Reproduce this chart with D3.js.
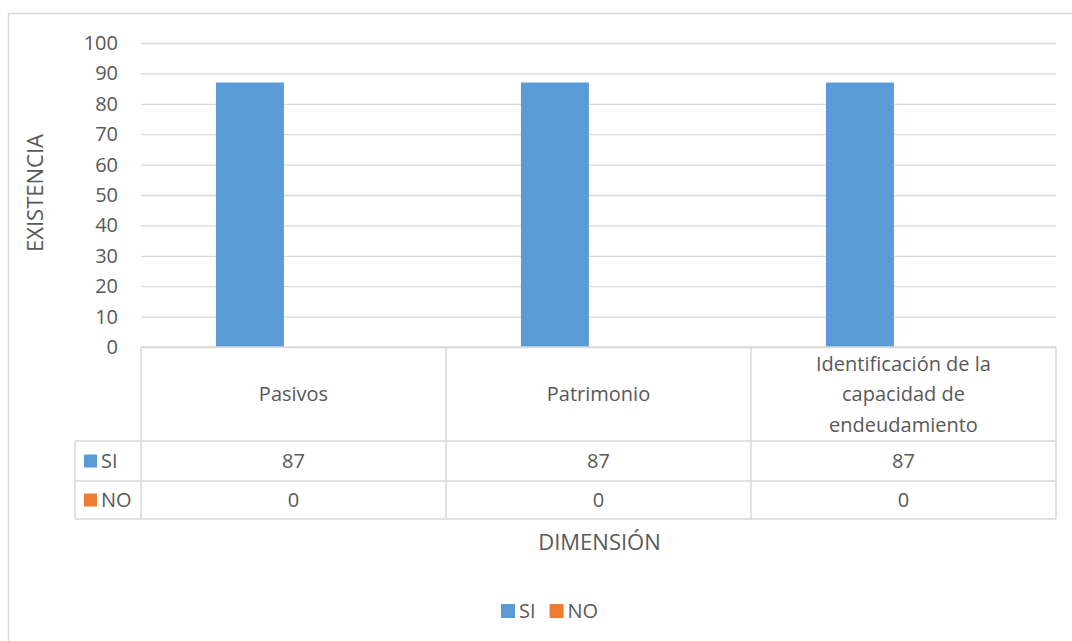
<!DOCTYPE html>
<html>
<head>
<meta charset="utf-8">
<script src="https://cdn.jsdelivr.net/npm/d3@7"></script>
<style>
  html, body { margin: 0; padding: 0; background: #fff; }
  svg { display: block; font-family: "Open Sans", sans-serif; }
</style>
</head>
<body>
<svg id="chart" width="1072" height="641"></svg>
<script>
// Data
const categories = ["Pasivos", "Patrimonio", "Identificación de la capacidad de endeudamiento"];
const seriesNames = ["SI", "NO"];
const siValues = [87, 87, 87];
const noValues = [0, 0, 0];
const yTicks = [0, 10, 20, 30, 40, 50, 60, 70, 80, 90, 100];
const yTitle = "EXISTENCIA";
const xTitle = "DIMENSIÓN";

const seriesColors = { SI: "#5b9bd5", NO: "#ed7d31" };
const seriesValues = { SI: siValues, NO: noValues };

const W = 1072, H = 641;
const plot = { left: 141, right: 1056, top: 43, bottom: 347 };
const table = { rowCat: 441, rowSi: 481, rowNo: 519, legendLeft: 75 };
const gridColor = "#d9d9d9";
const textColor = "#595959";
const fontSize = 20;
const titleSize = 22;

const svg = d3.select("#chart");
svg.append("rect").attr("width", W).attr("height", H).attr("fill", "#fff");

// Chart frame
svg.append("rect")
  .attr("x", 8.5).attr("y", 13.5)
  .attr("width", W + 20).attr("height", H + 20)
  .attr("fill", "none").attr("stroke", gridColor).attr("stroke-width", 1.5);

// Scales
const y = d3.scaleLinear().domain([0, 100]).range([plot.bottom, plot.top]);
const x0 = d3.scaleBand().domain(categories).range([plot.left, plot.right]).padding(0);
const bw = x0.bandwidth();
const x1 = d3.scaleBand().domain(seriesNames).range([bw * 0.2457, bw * 0.6915]).padding(0);

// Gridlines + y tick labels
const yAxis = svg.append("g")
  .attr("transform", `translate(${plot.left},0)`)
  .call(d3.axisLeft(y).tickValues(yTicks).tickSize(-(plot.right - plot.left)).tickPadding(23));
yAxis.select(".domain").remove();
yAxis.selectAll(".tick line").attr("stroke", gridColor).attr("stroke-width", 1.3);
yAxis.selectAll(".tick text")
  .attr("fill", textColor).attr("font-size", fontSize)
  .attr("font-family", "Open Sans, sans-serif");

// Bars
const groups = svg.append("g").selectAll("g")
  .data(categories)
  .join("g")
  .attr("transform", d => `translate(${x0(d)},0)`);

groups.selectAll("rect")
  .data((d, i) => seriesNames.map(s => ({ s, v: seriesValues[s][i] })))
  .join("rect")
  .attr("x", d => x1(d.s))
  .attr("y", d => y(d.v))
  .attr("width", x1.bandwidth())
  .attr("height", d => y(0) - y(d.v))
  .attr("fill", d => seriesColors[d.s]);

// Data table grid
const lines = svg.append("g").attr("stroke", gridColor).attr("stroke-width", 1.5);
const hline = (yy, xa, xb) => lines.append("line").attr("x1", xa).attr("x2", xb).attr("y1", yy).attr("y2", yy);
const vline = (xx, ya, yb) => lines.append("line").attr("x1", xx).attr("x2", xx).attr("y1", ya).attr("y2", yb);

hline(plot.bottom, plot.left, plot.right);
hline(table.rowCat, table.legendLeft, plot.right);
hline(table.rowSi, table.legendLeft, plot.right);
hline(table.rowNo, table.legendLeft, plot.right);
vline(table.legendLeft, table.rowCat, table.rowNo);
categories.forEach(c => vline(x0(c), plot.bottom, table.rowNo));
vline(plot.right, plot.bottom, table.rowNo);

// Category labels, wrapped
const catLabels = svg.append("g").selectAll("text")
  .data(categories)
  .join("text")
  .attr("text-anchor", "middle")
  .attr("fill", textColor)
  .attr("font-size", fontSize);

const maxLabelWidth = 205;
const lineH = 30.5;
catLabels.each(function (d) {
  const t = d3.select(this);
  const words = d.split(" ");
  const rows = [];
  let cur = [];
  const probe = t.append("tspan");
  words.forEach(w => {
    const trial = cur.concat([w]).join(" ");
    probe.text(trial);
    if (probe.node().getComputedTextLength() > maxLabelWidth && cur.length) {
      rows.push(cur.join(" "));
      cur = [w];
    } else {
      cur.push(w);
    }
  });
  if (cur.length) rows.push(cur.join(" "));
  probe.remove();
  const cx = x0(d) + bw / 2;
  const cy = (plot.bottom + table.rowCat) / 2;
  const startY = cy - (rows.length - 1) * lineH / 2;
  rows.forEach((r, i) => {
    t.append("tspan").attr("x", cx).attr("y", startY + i * lineH).attr("dy", "0.35em").text(r);
  });
});

// Value rows
const rowsInfo = [
  { s: "SI", top: table.rowCat, bottom: table.rowSi },
  { s: "NO", top: table.rowSi, bottom: table.rowNo }
];
rowsInfo.forEach(r => {
  const cy = (r.top + r.bottom) / 2;
  svg.append("g").selectAll("text")
    .data(categories.map((c, i) => ({ c, v: seriesValues[r.s][i] })))
    .join("text")
    .attr("x", d => x0(d.c) + bw / 2)
    .attr("y", cy)
    .attr("dy", "0.35em")
    .attr("text-anchor", "middle")
    .attr("fill", textColor)
    .attr("font-size", fontSize)
    .text(d => d.v);
  svg.append("rect")
    .attr("x", 84).attr("y", cy - 6.5)
    .attr("width", 13).attr("height", 13)
    .attr("fill", seriesColors[r.s]);
  svg.append("text")
    .attr("x", 101).attr("y", cy).attr("dy", "0.35em")
    .attr("fill", textColor).attr("font-size", fontSize)
    .text(r.s);
});

// Axis titles
svg.append("text")
  .attr("transform", `translate(43,193) rotate(-90)`)
  .attr("text-anchor", "middle")
  .attr("fill", textColor).attr("font-size", titleSize)
  .text(yTitle);

svg.append("text")
  .attr("x", (plot.left + plot.right) / 2 + 1).attr("y", 542).attr("dy", "0.35em")
  .attr("text-anchor", "middle")
  .attr("fill", textColor).attr("font-size", titleSize)
  .text(xTitle);

// Bottom legend
const legend = svg.append("g").attr("transform", "translate(501,611)");
let lx = 0;
seriesNames.forEach(s => {
  const g = legend.append("g").attr("transform", `translate(${lx},0)`);
  g.append("rect").attr("x", 0).attr("y", -7).attr("width", 14).attr("height", 14).attr("fill", seriesColors[s]);
  const txt = g.append("text").attr("x", 18).attr("y", 0).attr("dy", "0.35em")
    .attr("fill", textColor).attr("font-size", fontSize).text(s);
  lx += 18 + txt.node().getComputedTextLength() + 14;
});
</script>
</body>
</html>
